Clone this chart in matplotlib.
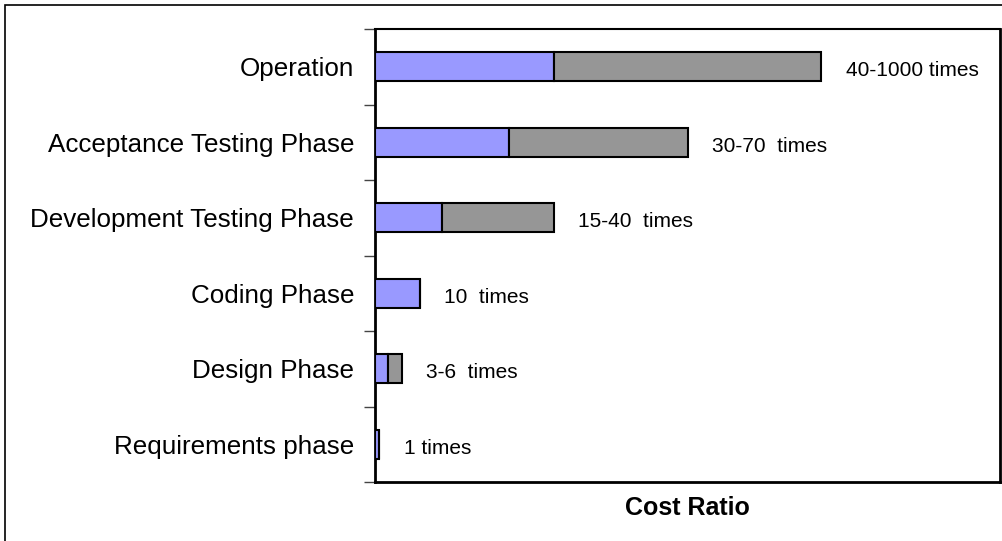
import numpy as np
import matplotlib
matplotlib.use("Agg")
from matplotlib import pyplot as plt
from matplotlib.patches import Rectangle

plt.rcParams['font.family'] = ['Liberation Sans', 'DejaVu Sans']

# phases from bottom to top
phases = ["Requirements phase", "Design Phase", "Coding Phase",
          "Development Testing Phase", "Acceptance Testing Phase", "Operation"]
low_ratio = [1, 3, 10, 15, 30, 40]     # purple part
high_ratio = [1, 6, 10, 40, 70, 100]   # end of grey part (operation drawn capped)
ratio_labels = ["1 times", "3-6  times", "10  times", "15-40  times",
                "30-70  times", "40-1000 times"]

PURPLE = "#9999FF"
GREY = "#969696"

fig = plt.figure(figsize=(10.03, 5.41), dpi=100)
fig.patch.set_facecolor("white")
ax = fig.add_axes([375 / 1003, 1 - 482 / 541, 625 / 1003, (482 - 29) / 541])

y = np.arange(len(phases))
low = np.array(low_ratio)
high = np.array(high_ratio)

ax.barh(y, low, height=0.39, color=PURPLE, edgecolor="black", linewidth=1.5, zorder=3)
ax.barh(y, high - low, left=low, height=0.39, color=GREY, edgecolor="black",
        linewidth=1.5, zorder=3)

# value labels sit a bit right of each bar
for yi, h, txt in zip(y, high, ratio_labels):
    ax.text(h + 5.5, yi - 0.125, txt, ha="left", va="baseline", fontsize=15, color="black")

ax.set_xlim(0, 140)
ax.set_ylim(-0.5, len(phases) - 0.5)

ax.set_yticks(y)
ax.set_yticklabels(phases, fontsize=18.7)
ax.tick_params(axis="y", which="major", length=0, pad=15)
ax.set_yticks(np.arange(-0.5, len(phases), 1.0), minor=True)
ax.tick_params(axis="y", which="minor", length=8, width=1, color="#444444", direction="out")
ax.set_xticks([])

ax.set_xlabel("Cost Ratio", fontsize=18, fontweight="bold", labelpad=10)

for side in ["left", "bottom", "right"]:
    ax.spines[side].set_linewidth(2)
ax.spines["top"].set_linewidth(1.5)

# outer frame around the chart (runs past the right and bottom edge)
fig.patches.append(Rectangle((5 / 1003, -0.1), 1.2, 1 - 5 / 541 + 0.1,
                             transform=fig.transFigure, fill=False,
                             edgecolor="black", linewidth=1.2))

plt.savefig("out.png", dpi=100)
